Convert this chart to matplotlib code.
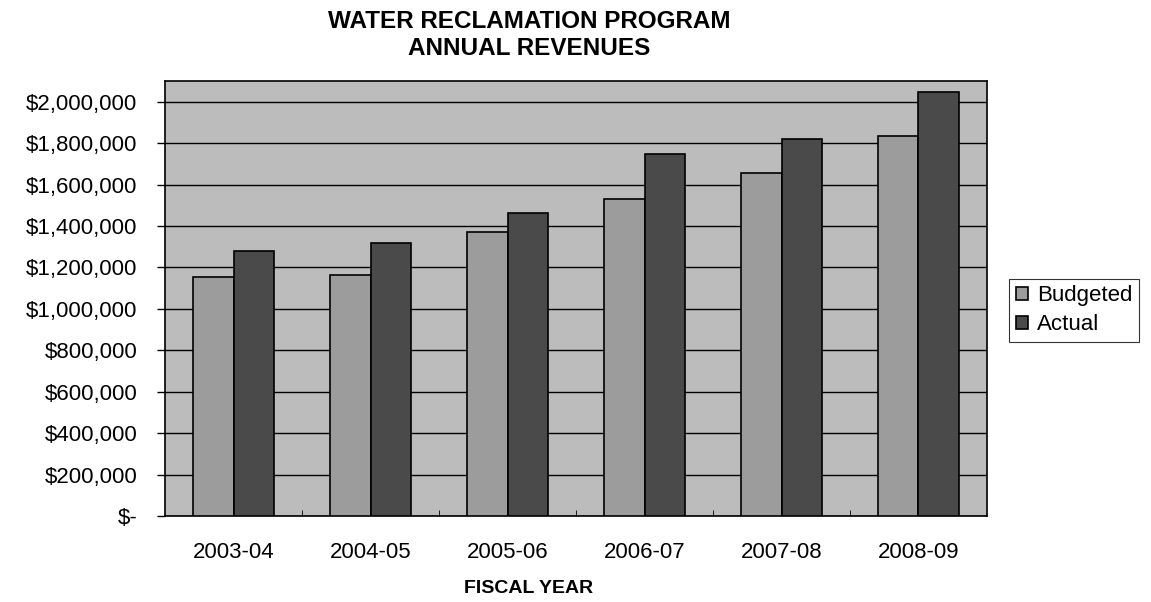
import numpy as np
import matplotlib
matplotlib.use("Agg")
import matplotlib.pyplot as plt
from matplotlib.ticker import FuncFormatter, FixedLocator

plt.rcParams['font.family'] = ['Liberation Sans', 'DejaVu Sans']

years = ["2003-04", "2004-05", "2005-06", "2006-07", "2007-08", "2008-09"]
budgeted = [1154000, 1164000, 1372000, 1531000, 1657000, 1836000]
actual = [1280000, 1319000, 1464000, 1749000, 1821000, 2048000]


def dollars(v, pos):
    if v == 0:
        return "$-"
    return "${:,.0f}".format(v)


fig = plt.figure(figsize=(11.51, 6.02), dpi=100)
ax = fig.add_axes([0.1434, 0.1429, 0.7141, 0.7225])

x = np.arange(len(years))
w = 0.295
ax.set_facecolor("#bcbcbc")
ax.bar(x - w / 2, budgeted, w, color="#9c9c9c", edgecolor="black", linewidth=1.2,
       label="Budgeted", zorder=3)
ax.bar(x + w / 2, actual, w, color="#4a4a4a", edgecolor="black", linewidth=1.2,
       label="Actual", zorder=3)

ax.set_ylim(0, 2100000)
ax.set_xlim(-0.5, len(years) - 0.5)
ax.set_yticks(np.arange(0, 2000001, 200000))
ax.yaxis.set_major_formatter(FuncFormatter(dollars))
ax.grid(axis="y", color="black", linewidth=1.0, zorder=1)
ax.set_axisbelow(True)

ax.set_xticks(x)
ax.set_xticklabels(years)
ax.tick_params(axis="x", length=0, pad=19, labelsize=16)
ax.xaxis.set_minor_locator(FixedLocator(np.arange(0.5, len(years) - 1, 1.0)))
ax.tick_params(axis="x", which="minor", direction="in", length=4, color="black")
ax.tick_params(axis="y", length=6, width=1, labelsize=16, pad=14)

for s in ax.spines.values():
    s.set_color("black")
    s.set_linewidth(1.2)

fig.text(0.460, 0.942, "WATER RECLAMATION PROGRAM\nANNUAL REVENUES",
         ha="center", va="center", fontsize=17.5, fontweight="bold", linespacing=1.2)
fig.text(0.459, 0.022, "FISCAL YEAR", ha="center", va="center",
         fontsize=14, fontweight="bold")

leg = fig.legend(loc="upper left", bbox_to_anchor=(0.877, 0.537), fontsize=16,
                 frameon=True, fancybox=False, edgecolor="black", borderpad=0.3,
                 borderaxespad=0, handlelength=0.55, handleheight=0.55,
                 handletextpad=0.4, labelspacing=0.35)
leg.get_frame().set_linewidth(0.8)

fig.savefig("out.png", dpi=100)
